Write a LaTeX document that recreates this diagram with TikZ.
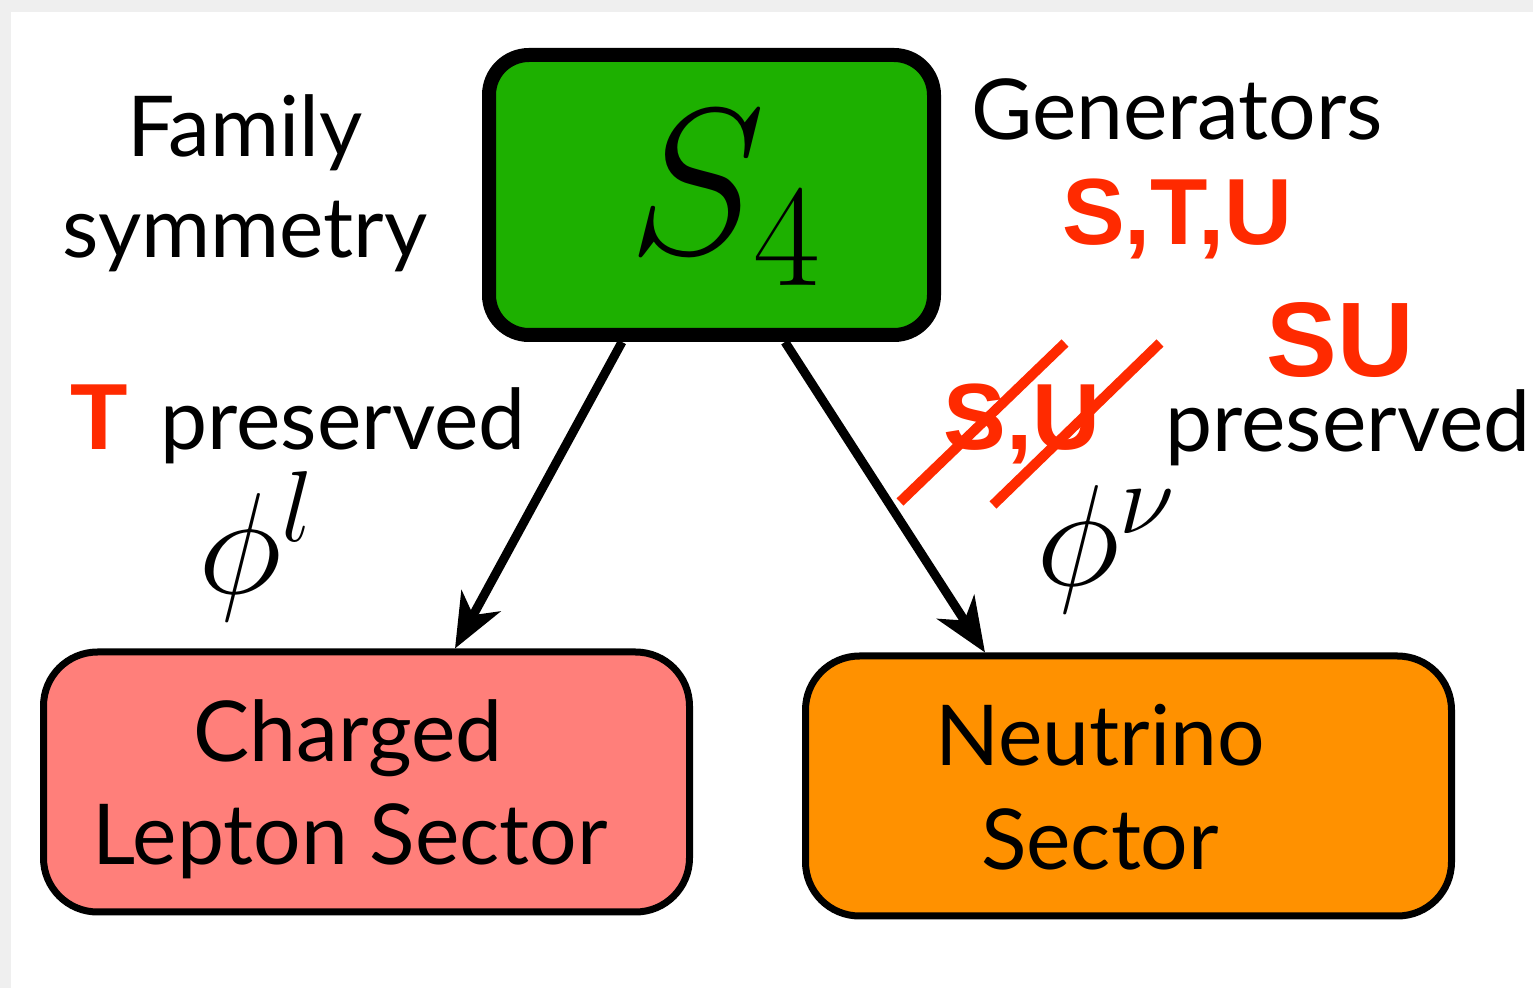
\RequirePackage{fix-cm}
\documentclass[tikz,border=0pt]{standalone}
\usepackage{fontspec}
\setmainfont{Lato}
\newfontfamily\boldred{Liberation Sans}[BoldFont={Liberation Sans Bold}]
\usetikzlibrary{arrows.meta}
\definecolor{bggray}{HTML}{EFEFEF}
\definecolor{redtxt}{HTML}{FF2A00}
\definecolor{boxgreen}{HTML}{1DB000}
\definecolor{boxsalmon}{HTML}{FF7F7A}
\definecolor{boxorange}{HTML}{FF9100}
\tikzset{
  lbl/.style={inner sep=0pt, anchor=base, font=\fontsize{42}{48}\selectfont},
  lblw/.style={lbl, anchor=base west},
  redlbl/.style={inner sep=0pt, anchor=base west, text=redtxt, font=\boldred\bfseries\fontsize{47}{52}\selectfont},
  mathlbl/.style={inner sep=0pt, anchor=base west, font=\fontsize{72}{80}\selectfont},
  sectorbox/.style={draw=black, line width=3.5pt, rounded corners=27pt, minimum width=323pt, minimum height=130pt, inner sep=0pt},
  flow/.style={line width=4.5pt, -{Stealth[length=27pt,width=22pt,inset=8pt]}},
  strike/.style={draw=redtxt, line width=5pt}
}
\begin{document}
\begin{tikzpicture}[x=0.5pt,y=-0.5pt]
\useasboundingbox (0,0) rectangle (1533,988);
\fill[bggray] (0,0) rectangle (1533,988);
\fill[white] (11,12) rectangle (1533,988);

% main group box
\node[draw=black, fill=boxgreen, line width=7pt, rounded corners=20pt,
      minimum width=222.5pt, minimum height=140pt, inner sep=0pt] (s4) at (711.5,195) {};
\node[inner sep=0pt, anchor=base west, font=\fontsize{104}{110}\selectfont] (s4t) at (628,254) {$S_4$};

% sector boxes
\node[sectorbox, fill=boxsalmon] (cl) at (366.5,782) {};
\node[sectorbox, fill=boxorange] (nu) at (1128.5,786) {};

\node[lbl] (cl1) at (348,762) {Charged};
\node[lbl] (cl2) at (350,865) {Lepton Sector};
\node[lbl] (nu1) at (1100,766) {Neutrino};
\node[lbl] (nu2) at (1100,870) {Sector};

% side labels
\node[lbl] (fam1) at (245,157) {Family};
\node[lbl] (fam2) at (245,258) {symmetry};
\node[lbl] (gen) at (1177,140) {Generators};
\node[redlbl, anchor=base] (stu) at (1177,245) {S,T,U};
\node[redlbl, anchor=base, font=\boldred\bfseries\fontsize{53}{60}\selectfont] (su) at (1340,377) {SU};

\node[redlbl] (tl) at (70,450) {T};
\node[lblw] (pres1) at (160,450) {preserved};
\node[redlbl] (sul) at (943,450) {S,U};
\node[lblw] (pres2) at (1165,452) {preserved};

\draw[strike] (900,502) -- (1065,343);
\draw[strike] (993,505) -- (1160,343);

\node[mathlbl] (phil) at (198,594) {$\phi^l$};
\node[mathlbl] (phinu) at (1036,586) {$\phi^\nu$};

% arrows
\draw[flow] ([xshift=-44.75pt]s4.south) -- ([xshift=44.25pt]cl.north);
\draw[flow] ([xshift=36.75pt]s4.south) -- ([xshift=-71.75pt]nu.north);
\end{tikzpicture}
\end{document}
